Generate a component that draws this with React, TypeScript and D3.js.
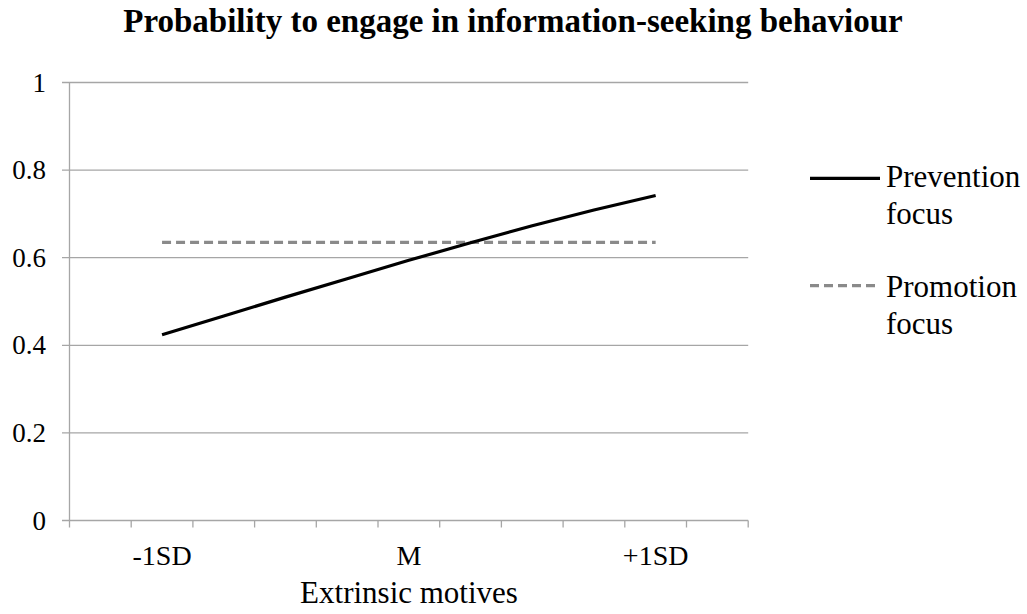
import React from "react";
import * as d3 from "d3";

const categories = ["c0", "c1", "c2", "c3", "c4", "c5", "c6", "c7", "c8", "c9", "c10"];
const categoryLabels = ["", "-1SD", "", "", "", "M", "", "", "", "+1SD", ""];
const prevention: (number | null)[] = [null, 0.424, 0.467, 0.51, 0.552, 0.594, 0.634, 0.673, 0.709, 0.742, null];
const promotion: (number | null)[] = [null, 0.635, 0.635, 0.635, 0.635, 0.635, 0.635, 0.635, 0.635, 0.635, null];
const yTicks = [0, 0.2, 0.4, 0.6, 0.8, 1];
const yTickLabels = ["0", "0.2", "0.4", "0.6", "0.8", "1"];
const seriesNames = [["Prevention", "focus"], ["Promotion", "focus"]];

const W = 1027;
const H = 614;
const FONT = "Liberation Serif";

export default function App() {
  const x = d3.scaleBand<string>().domain(categories).range([69.5, 748.2]);
  const y = d3.scaleLinear().domain([0, 1]).range([520.5, 82.5]);
  const cx = (i: number) => (x(categories[i]) as number) + x.bandwidth() / 2;

  const line = d3
    .line<number | null>()
    .defined((d) => d !== null)
    .x((_, i) => cx(i))
    .y((d) => y(d as number));

  const grid = "#a6a6a6";
  const dashColor = "#8a8a8a";
  const txt = { fontFamily: FONT } as React.CSSProperties;

  return (
    <svg width={W} height={H} style={{ position: "absolute", left: 0, top: 0, background: "#fff", fontFamily: FONT }}>
      <rect x={0} y={0} width={W} height={H} fill="#fff" />
      <text x={513} y={32} textAnchor="middle" style={txt} fontWeight="bold" fontSize={33} fill="#000">
        Probability to engage in information-seeking behaviour
      </text>

      {yTicks.map((t, i) => (
        <g key={"y" + i}>
          <line x1={62} x2={748.2} y1={y(t)} y2={y(t)} stroke={grid} strokeWidth={1.3} />
          <text x={46} y={y(t) + 9} textAnchor="end" style={txt} fontSize={27} fill="#000">
            {yTickLabels[i]}
          </text>
        </g>
      ))}
      <line x1={69.5} x2={69.5} y1={y(1)} y2={y(0)} stroke={grid} strokeWidth={1.3} />

      {categories.map((c, i) => (
        <line key={"xt" + i} x1={x(c) as number} x2={x(c) as number} y1={y(0)} y2={y(0) + 7} stroke={grid} strokeWidth={1.3} />
      ))}
      <line x1={748.2} x2={748.2} y1={y(0)} y2={y(0) + 7} stroke={grid} strokeWidth={1.3} />

      {categoryLabels.map((l, i) =>
        l ? (
          <text key={"xl" + i} x={cx(i)} y={565} textAnchor="middle" style={txt} fontSize={28} fill="#000">
            {l}
          </text>
        ) : null
      )}
      <text x={409} y={603} textAnchor="middle" style={txt} fontSize={31} fill="#000">
        Extrinsic motives
      </text>

      <path d={line(promotion) || ""} fill="none" stroke={dashColor} strokeWidth={3.3} strokeDasharray="9,5" />
      <path d={line(prevention) || ""} fill="none" stroke="#000" strokeWidth={3.2} />

      <line x1={810} x2={880} y1={178.3} y2={178.3} stroke="#000" strokeWidth={3.2} />
      <text style={txt} fontSize={31} fill="#000">
        <tspan x={886} y={187}>{seriesNames[0][0]}</tspan>
        <tspan x={886} y={224}>{seriesNames[0][1]}</tspan>
      </text>
      <line x1={810} x2={880} y1={285.7} y2={285.7} stroke={dashColor} strokeWidth={3.3} strokeDasharray="9,5" />
      <text style={txt} fontSize={31} fill="#000">
        <tspan x={886} y={296.5}>{seriesNames[1][0]}</tspan>
        <tspan x={886} y={334}>{seriesNames[1][1]}</tspan>
      </text>
    </svg>
  );
}
